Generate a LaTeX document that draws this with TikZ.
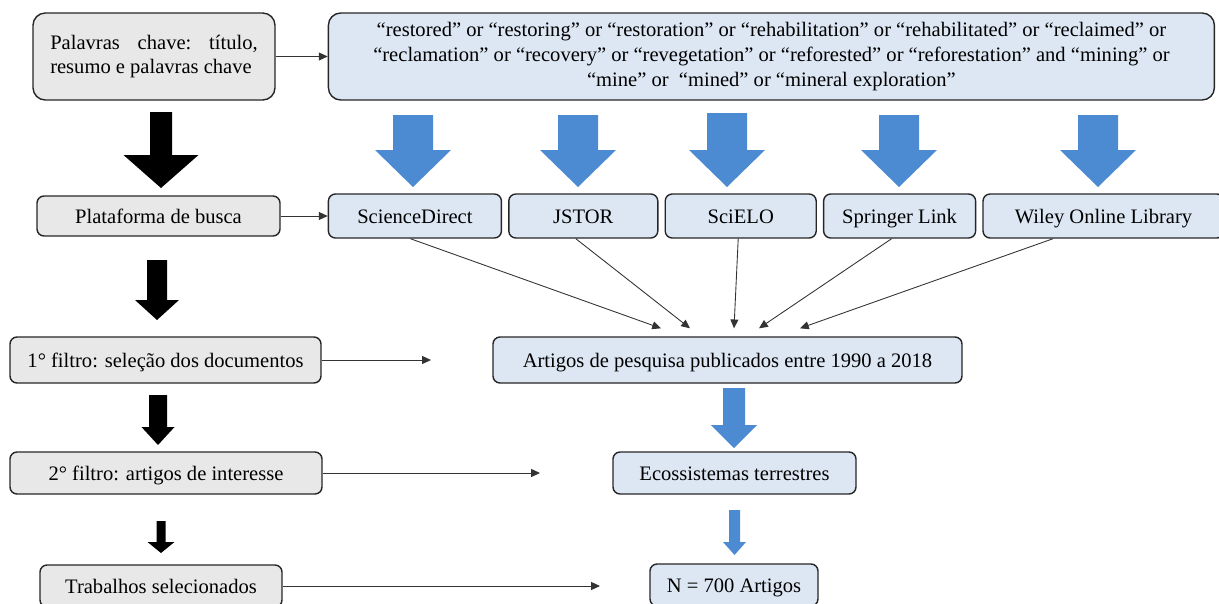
\documentclass[tikz,border=0pt]{standalone}
\usepackage{fontspec}
\setmainfont{Liberation Serif}
\usepackage{tikz}
\usetikzlibrary{positioning,arrows.meta,calc}
\usepackage{xcolor}

\definecolor{boxgray}{RGB}{232,232,232}
\definecolor{boxblue}{RGB}{221,231,244}
\definecolor{arrowblue}{RGB}{76,139,210}

% block arrow pointing down: colour, x, y top, y head, y tip, shaft half width, head half width
\newcommand{\downblock}[7]{%
  \fill[#1, -] (#2-#6,#3) -- (#2+#6,#3) -- (#2+#6,#4) -- (#2+#7,#4)
    -- (#2,#5) -- (#2-#7,#4) -- (#2-#6,#4) -- cycle;}

\begin{document}
\begin{tikzpicture}[
  ->,>={Triangle[length=5pt,width=4.5pt]},
  every node/.style={font=\fontsize{11.7}{14}\selectfont},
  stepbox/.style={draw=black!85, line width=0.8pt, rounded corners=4pt,
                  fill=boxgray, inner sep=2pt},
  srcbox/.style={stepbox, fill=boxblue},
  oneline/.style={text height=9pt, text depth=1pt},
  thin/.style={line width=0.5pt, black!80},
]
  \useasboundingbox (0,0) rectangle (24.38,-12.06);

  % left column
  \node[stepbox, rounded corners=7pt, minimum width=4.84cm, minimum height=1.74cm,
        text width=4.15cm, align=justify] (pal) at (3.08,-1.13)
        {Palavras\hfill chave:\hfill título,\\resumo e palavras chave};
  \node[stepbox, oneline, minimum width=4.86cm, minimum height=0.80cm] (plat) at (3.17,-4.32) {Plataforma de busca};
  \node[stepbox, oneline, minimum width=6.22cm, minimum height=0.92cm] (f1) at (3.31,-7.20) {1° filtro: seleção dos documentos};
  \node[stepbox, oneline, minimum width=6.24cm, minimum height=0.84cm] (f2) at (3.32,-9.46) {2° filtro: artigos de interesse};
  \node[stepbox, oneline, minimum width=4.84cm, minimum height=0.84cm] (trab) at (3.22,-11.72) {Trabalhos selecionados};

  % search terms and platforms
  \node[srcbox, rounded corners=7pt, right=1.04cm of pal, minimum width=17.72cm,
        minimum height=1.74cm, align=center] (kw)
        {“restored” or “restoring” or “restoration” or “rehabilitation” or “rehabilitated” or “reclaimed” or\\
         “reclamation” or “recovery” or “revegetation” or “reforested” or “reforestation” and “mining” or\\
         “mine” or\ \ “mined” or “mineral exploration”};
  \node[srcbox, oneline, right=0.94cm of plat, minimum width=3.46cm, minimum height=0.88cm] (sd) {ScienceDirect};
  \node[srcbox, oneline, right=0.12cm of sd, minimum width=2.98cm, minimum height=0.88cm] (jstor) {JSTOR};
  \node[srcbox, oneline, right=0.12cm of jstor, minimum width=3.02cm, minimum height=0.88cm] (scielo) {SciELO};
  \node[srcbox, oneline, right=0.12cm of scielo, minimum width=3.04cm, minimum height=0.88cm] (spr) {Springer Link};
  \node[srcbox, oneline, right=0.12cm of spr, minimum width=4.82cm, minimum height=0.88cm] (wiley) {Wiley Online Library};

  % results
  \node[srcbox, oneline, minimum width=9.38cm, minimum height=0.92cm] (art) at (14.55,-7.20) {Artigos de pesquisa publicados entre 1990 a 2018};
  \node[srcbox, oneline, minimum width=4.86cm, minimum height=0.84cm] (eco) at (14.69,-9.46) {Ecossistemas terrestres};
  \node[srcbox, oneline, minimum width=3.36cm, minimum height=0.84cm] (n700) at (14.68,-11.70) {N = 700 Artigos};

  % free ends
  \coordinate (f1end) at (8.62,-7.20);
  \coordinate (f2end) at (10.80,-9.46);
  \coordinate (trabend) at (12.00,-11.72);

  % thin arrows
  \draw[thin] (pal) -- (kw);
  \draw[thin] (plat) -- (sd);
  \draw[thin] (f1) -- (f1end);
  \draw[thin] (f2) -- (f2end);
  \draw[thin] (trab) -- (trabend);
  \foreach \src/\sx/\dx in {sd/-0.09/-1.33, jstor/-0.15/-0.75, scielo/-0.05/0.13,
                            spr/-0.16/0.63, wiley/-1.01/1.45}
    \draw[thin] ([xshift=\sx cm]\src.south) -- ([xshift=\dx cm, yshift=0.16cm]art.north);

  % block arrows
  \downblock{black}{3.22}{-2.24}{-3.10}{-3.76}{0.22}{0.75}
  \downblock{black}{3.14}{-5.20}{-6.00}{-6.40}{0.20}{0.44}
  \downblock{black}{3.16}{-7.90}{-8.54}{-8.90}{0.18}{0.33}
  \downblock{black}{3.22}{-10.42}{-10.84}{-11.06}{0.09}{0.27}
  \foreach \bx/\bt in {8.26/-2.30, 11.56/-2.30, 14.54/-2.26, 17.98/-2.30, 21.96/-2.30}
    {\downblock{arrowblue}{\bx}{\bt}{-3.00}{-3.74}{0.40}{0.76}}
  \downblock{arrowblue}{14.68}{-7.76}{-8.50}{-8.96}{0.22}{0.46}
  \downblock{arrowblue}{14.69}{-10.20}{-10.84}{-11.10}{0.11}{0.23}
\end{tikzpicture}
\end{document}
